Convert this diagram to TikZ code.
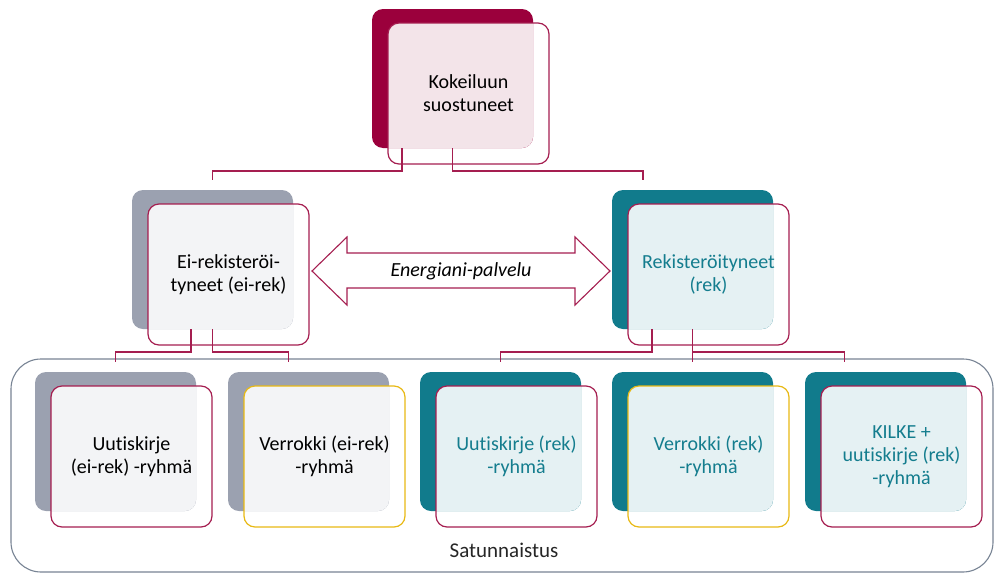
\documentclass[tikz,border=0pt]{standalone}
\usepackage{fontspec}
\setmainfont{Carlito}[Ligatures={NoCommon,NoRare,NoContextual}]
\usetikzlibrary{calc}
\definecolor{crim}{RGB}{155,0,60}
\definecolor{crimline}{RGB}{165,30,80}
\definecolor{pinklt}{RGB}{243,228,233}
\definecolor{grayb}{RGB}{155,161,176}
\definecolor{graylt}{RGB}{243,244,246}
\definecolor{tealb}{RGB}{17,123,140}
\definecolor{teallt}{RGB}{229,241,243}
\definecolor{tealtx}{RGB}{20,125,142}
\definecolor{yel}{RGB}{232,185,20}
\definecolor{contc}{RGB}{120,132,148}
\newcommand{\acbox}[8]{%
  \node[backbox, fill=#4] (#1B) at (#2+80.5,#3+69.5) {};
  \begin{scope}
    \clip[rounded corners=11pt] (#2,#3) rectangle ++(161,139);
    \fill[#5, rounded corners=11pt] (#2+16,#3+14) rectangle ++(161,141);
  \end{scope}
  \node[frontbox, draw=#6, text=#7] (#1F) at (#2+16+80.5,#3+14+70.5) {#8};
}
\begin{document}
\begin{tikzpicture}[x=1pt,y=-1pt,
  backbox/.style={minimum width=161pt, minimum height=139pt, rounded corners=11pt, inner sep=0pt, outer sep=0pt},
  frontbox/.style={minimum width=161pt, minimum height=141pt, rounded corners=11pt, line width=1.2pt, align=center, font=\fontsize{20}{23}\selectfont, inner sep=0pt, outer sep=0pt},
  conn/.style={draw=crimline, line width=1.1pt},
]
\useasboundingbox (0,0) rectangle (995,573);
\fill[white] (0,0) rectangle (995,573);

% container
\node[draw=contc, line width=1.1pt, rounded corners=30pt, minimum width=982pt, minimum height=213pt, inner sep=0pt] (cont) at (502,465.5) {};
\node[font=\fontsize{21}{24}\selectfont, text=black!85] (sat) at (504,550) {Satunnaistus};

\acbox{top}{372}{9}{crim}{pinklt}{crimline}{black}{Kokeiluun\\suostuneet}
\acbox{ml}{132}{190}{grayb}{graylt}{crimline}{black}{Ei-rekisteröi-\\tyneet (ei-rek)}
\acbox{mr}{612}{190}{tealb}{teallt}{crimline}{tealtx}{Rekisteröityneet\\(rek)}
\acbox{ba}{35}{372}{grayb}{graylt}{crimline}{black}{Uutiskirje\\(ei-rek) -ryhmä}
\acbox{bb}{228}{372}{grayb}{graylt}{yel}{black}{Verrokki (ei-rek)\\-ryhmä}
\acbox{bc}{420}{372}{tealb}{teallt}{crimline}{tealtx}{Uutiskirje (rek)\\-ryhmä}
\acbox{bd}{612}{372}{tealb}{teallt}{yel}{tealtx}{Verrokki (rek)\\-ryhmä}
\acbox{be}{805}{372}{tealb}{teallt}{crimline}{tealtx}{KILKE +\\uutiskirje (rek)\\-ryhmä}

% double arrow
\draw[draw=crimline, fill=white, line width=1.1pt] (312,271) -- (347,237) -- (347,253) -- (575,253) -- (575,237) -- (610,271) -- (575,305) -- (575,288) -- (347,288) -- (347,305) -- cycle;
\node[font=\itshape\fontsize{20}{23}\selectfont] (en) at (461,271) {Energiani-palvelu};

% connectors
\draw[conn] ([xshift=30pt]topB.south west) -- ++(0,23) -| ([yshift=10pt]mlB.north);
\draw[conn] (topB.south) -- ++(0,23) -| ([xshift=31pt,yshift=10pt]mrB.north west);
\draw[conn] ([xshift=59pt]mlB.south west) -- ++(0,23) -| ([yshift=10pt]baB.north);
\draw[conn] (mlB.south) -- ++(0,23) -| ([xshift=-20pt,yshift=10pt]bbB.north);
\draw[conn] ([xshift=40pt]mrB.south west) -- ++(0,23) -| ([yshift=10pt]bcB.north);
\draw[conn] (mrB.south) -- ([yshift=10pt]bdB.north);
\draw[conn] (mrB.south) ++(0,23) -| ([xshift=-41pt,yshift=10pt]beB.north);
\end{tikzpicture}
\end{document}
